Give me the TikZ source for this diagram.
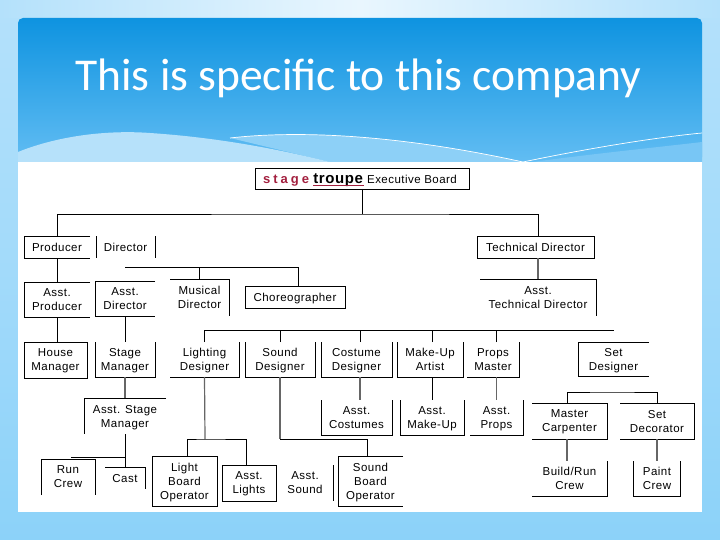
\documentclass[tikz,border=0pt]{standalone}
\usepackage{fontspec}
\setmainfont[LetterSpace=4]{Liberation Sans}
\newfontfamily\titlefont{Carlito}
\usetikzlibrary{positioning}

\definecolor{pagetop}{HTML}{B4E1FB}
\definecolor{pagemid}{HTML}{E9F6FE}
\definecolor{pagelow}{HTML}{8CD2F9}
\definecolor{headtop}{HTML}{0E93E0}
\definecolor{headlow}{HTML}{62BDF3}
\definecolor{wavepale}{HTML}{B6E1FA}
\definecolor{wavemid}{HTML}{8DD0F7}
\definecolor{waveright}{HTML}{78C6F5}
\definecolor{stagered}{HTML}{A3203F}

\tikzset{
	unit/.style={inner sep=0pt,outer sep=0pt,align=center,text depth=-2pt,font=\fontsize{11.5}{14}\selectfont},
	boxed/.style={unit,draw,line width=0.9pt},
	side/.style={line width=0.9pt},
	feed/.style={line width=0.9pt},
	greyfeed/.style={line width=1.2pt,black!60},
}

\begin{document}
\begin{tikzpicture}[x=1pt,y=-1pt]
	\useasboundingbox (0,0) rectangle (720,540);

	% slide background
	\shade[top color=pagetop,bottom color=pagelow,middle color=pagetop!55!pagelow] (0,0) rectangle (720,540);
	\shade[left color=pagetop,right color=pagetop,middle color=pagemid] (0,0) rectangle (720,18);
	\shade[top color=headtop,bottom color=headlow,rounded corners=5pt] (18,162) -- (18,18) -- (702,18) -- (702,162) -- cycle;
	\fill[waveright] (532,162) .. controls (600,153) and (660,147) .. (702,142) -- (702,162) -- cycle;
	\fill[wavemid] (230,138) .. controls (300,130) and (400,135) .. (523,162) -- (330,162) -- cycle;
	\fill[wavepale] (18,152) .. controls (60,135) and (110,130) .. (150,133) .. controls (210,137) and (270,147) .. (330,162) -- (18,162) -- cycle;
	\draw[white,line width=0.7pt] (230,138) .. controls (300,130) and (400,135) .. (523,162) .. controls (580,150) and (650,138) .. (702,133);
	\fill[white] (18,162) rectangle (702,512);
	\node[text=white,inner sep=0pt,font=\titlefont\fontsize{45.5}{48}\selectfont] (title) at (358.5,78) {This is specific to this company};

	% top of the tree
	\node[boxed,minimum width=214,minimum height=21] (board) at (362,178.5) {\textcolor{stagered}{\textbf{\fontsize{13}{14}\selectfont s\hspace{3pt}t\hspace{3pt}a\hspace{3pt}g\hspace{3pt}e}} \textcolor{stagered}{\underbar{\textcolor{black}{\textbf{\fontsize{15}{14}\selectfont troupe}}}} Executive Board\hspace{4pt}};
	\node[unit,minimum width=66,minimum height=22] (prod) at (57,247) {Producer};
	\node[unit,minimum width=59,minimum height=22] (dir) at (125.5,247) {Director};
	\node[boxed,minimum width=117,minimum height=22] (techdir) at (535.5,247) {Technical Director};

	% assistants
	\node[unit,minimum width=66,minimum height=35] (aprod) at (57,299.5) {Asst.\\Producer};
	\node[unit,minimum width=60,minimum height=35] (adir) at (125,298.5) {Asst.\\Director};
	\node[unit,minimum width=59,minimum height=37] (mdir) at (199.5,297.5) {Musical\\Director};
	\node[boxed,minimum width=100,minimum height=22] (chor) at (295,297) {Choreographer};
	\node[unit,minimum width=116,minimum height=37] (atech) at (538,297.5) {Asst.\\Technical Director};

	% designers
	\node[boxed,minimum width=63,minimum height=36] (house) at (55.5,360) {House\\Manager};
	\node[unit,minimum width=60,minimum height=35] (stage) at (125,359.5) {Stage\\Manager};
	\node[unit,minimum width=69,minimum height=35] (light) at (204.5,359.5) {Lighting\\Designer};
	\node[unit,minimum width=70,minimum height=35] (sound) at (280,359.5) {Sound\\Designer};
	\node[unit,minimum width=71,minimum height=35] (cost) at (356.5,359.5) {Costume\\Designer};
	\node[unit,minimum width=66,minimum height=35] (make) at (430,359.5) {Make-Up\\Artist};
	\node[unit,minimum width=52,minimum height=35] (prop) at (493,359.5) {Props\\Master};
	\node[unit,minimum width=71,minimum height=34] (setd) at (613.5,359) {Set\\Designer};

	% second row of assistants
	\node[unit,minimum width=82,minimum height=36] (astage) at (125,416) {Asst. Stage\\Manager};
	\node[unit,minimum width=71,minimum height=35] (acost) at (356.5,417.5) {Asst.\\Costumes};
	\node[unit,minimum width=64,minimum height=35] (amake) at (432,417.5) {Asst.\\Make-Up};
	\node[unit,minimum width=53,minimum height=35] (aprop) at (496.5,417.5) {Asst.\\Props};
	\node[unit,minimum width=75,minimum height=36] (carp) at (569.5,421) {Master\\Carpenter};
	\node[unit,minimum width=74,minimum height=36] (sdec) at (657,421) {Set\\Decorator};

	% crews
	\node[unit,minimum width=54,minimum height=36] (run) at (68,477) {Run\\Crew};
	\node[unit,minimum width=40,minimum height=22] (cast) at (125,478) {Cast};
	\node[boxed,minimum width=65,minimum height=50] (lbo) at (184.5,481) {Light\\Board\\Operator};
	\node[boxed,minimum width=54,minimum height=36] (alight) at (249,483) {Asst.\\Lights};
	\node[unit,minimum width=56,minimum height=36] (asound) at (305,483) {Asst.\\Sound};
	\node[unit,minimum width=65,minimum height=50] (sbo) at (370.5,481) {Sound\\Board\\Operator};
	\node[unit,minimum width=75,minimum height=35] (build) at (569.5,478.5) {Build/Run\\Crew};
	\node[unit,minimum width=47,minimum height=35] (paint) at (657,478.5) {Paint\\Crew};

	% open boxes
	\draw[side] (prod.north east) -- (prod.north west) -- (prod.south west) -- (prod.south east);
	\draw[side] (dir.north west) -- (dir.south west);
	\draw[side] (dir.north east) -- (dir.south east);
	\draw[side] (aprod.north east) -- (aprod.north west) -- (aprod.south west) -- (aprod.south east);
	\draw[side] (adir.north east) -- (adir.north west) -- (adir.south west) -- (adir.south east);
	\draw[side] (mdir.north west) -- (mdir.north east) -- (mdir.south east);
	\draw[side] (atech.north west) -- (atech.north east) -- (atech.south east);
	\draw[side] (stage.north west) -- (stage.south west) -- (stage.south east) -- (stage.north east);
	\draw[side] (light.south west) -- (light.south east) -- (light.north east);
	\draw[side] (sound.north west) -- (sound.south west) -- (sound.south east) -- (sound.north east);
	\draw[side] (cost.north west) -- (cost.south west) -- (cost.south east) -- (cost.north east);
	\draw[side] (make.north west) -- (make.south west) -- (make.south east) -- (make.north east);
	\draw[side] (prop.south west) -- (prop.south east) -- (prop.north east);
	\draw[side] (setd.north east) -- (setd.north west) -- (setd.south west) -- (setd.south east);
	\draw[side] (astage.north east) -- (astage.north west) -- (astage.south west);
	\draw[side] (acost.north west) -- (acost.south west) -- (acost.south east) -- (acost.north east);
	\draw[side] (amake.north west) -- (amake.south west) -- (amake.south east) -- (amake.north east);
	\draw[side] (aprop.south west) -- (aprop.south east) -- (aprop.north east);
	\draw[side] (carp.north west) -- (carp.north east) -- (carp.south east) -- (carp.south west);
	\draw[side] (sdec.north west) -- (sdec.north east) -- (sdec.south east) -- (sdec.south west);
	\draw[side] (run.south west) -- (run.north west) -- (run.north east) -- (run.south east);
	\draw[side] (cast.north west) -- (cast.north east) -- (cast.south east);
	\draw[side] (asound.north east) -- (asound.south east);
	\draw[side] (sbo.north east) -- (sbo.north west) -- (sbo.south west) -- (sbo.south east);
	\draw[side] (build.north east) -- (build.south east) -- (build.south west);
	\draw[side] (paint.north west) -- (paint.south west) -- (paint.south east) -- (paint.north east);

	% connectors
	\coordinate (topbus) at (362,214);
	\coordinate (dirbus) at (125,267);
	\coordinate (designbus) at (204,330);
	\coordinate (busend) at (614,330);
	\coordinate (runjoin) at (125,457);
	\coordinate (lightbus) at (205,439);
	\coordinate (soundbend) at (367,439);
	\coordinate (setbus) at (612,392);

	\draw[feed] (board.south) -- (topbus);
	\draw[feed] (prod.north) |- (topbus) -| (atech.north |- techdir.north);
	\draw[feed] (prod.south) -- (aprod.north);
	\draw[feed] (aprod.south) -- (house.north -| aprod.south);
	\draw[greyfeed] (atech.north |- techdir.south) -- (atech.north);

	\draw[feed] (dirbus) -- ([xshift=3pt]chor.north |- dirbus) -- ([xshift=3pt]chor.north);
	\draw[feed] (mdir.north) -- (mdir.north |- dirbus);
	\draw[feed] (adir.south) -- (stage.north);

	\draw[feed] (designbus) -- (busend);
	\foreach \unitname/\shift in {light/0,sound/0,cost/3.5,make/2,prop/3} {
		\draw[feed] ([xshift=\shift pt]\unitname.north) -- ([xshift=\shift pt]\unitname.north |- designbus);
	}

	\draw[greyfeed] (stage.south) -- (astage.north);
	\draw[feed] (astage.south) -- (cast.north);
	\draw[feed] (runjoin) -- ([xshift=3pt]run.north |- runjoin);
	\draw[greyfeed] ([xshift=3.5pt]cost.south) -- ([xshift=3.5pt]acost.north);
	\draw[feed] (make.south -| amake.north) -- (amake.north);
	\draw[greyfeed] (prop.south -| aprop.north) -- (aprop.north);

	\draw[greyfeed] (light.south) -- (lightbus);
	\draw[feed] ([xshift=2.5pt]lbo.north) |- (lightbus) -| ([xshift=-3pt]alight.north);
	\draw[greyfeed] (sound.south) -- (sound.south |- soundbend);
	\draw[feed] (sound.south |- soundbend) -- (soundbend) -- (soundbend |- sbo.north);

	\draw[feed] ([xshift=-2.5pt]carp.north) |- (setbus) -| (sdec.north);
	\draw[greyfeed] ([xshift=-2.5pt]carp.south) -- ([xshift=-2.5pt]build.north);
	\draw[greyfeed] (sdec.south) -- (paint.north);
\end{tikzpicture}
\end{document}
